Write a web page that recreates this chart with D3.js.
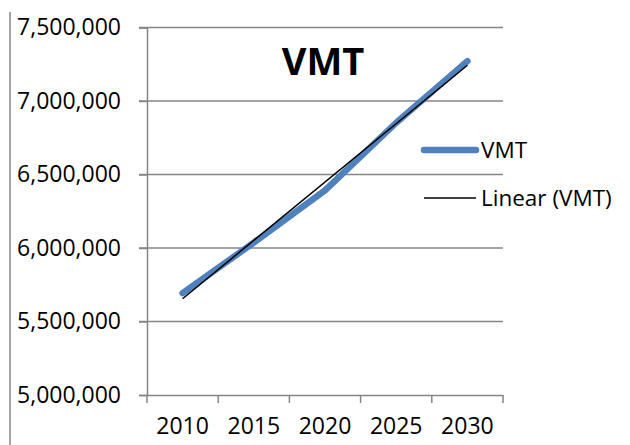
<!DOCTYPE html>
<html>
<head>
<meta charset="utf-8">
<script src="https://cdn.jsdelivr.net/npm/d3@7"></script>
<style>
  body { margin: 0; background: #fff; }
  svg { display: block; font-family: "Open Sans", sans-serif; }
</style>
</head>
<body>
<svg id="chart" width="630" height="445"></svg>
<script>
const years = ["2010", "2015", "2020", "2025", "2030"];
const vmt = [5693000, 6037000, 6392000, 6852000, 7271000];
const yTicks = [5000000, 5500000, 6000000, 6500000, 7000000, 7500000];

const svg = d3.select("#chart");
const grey = "#868686";

const x = d3.scaleBand().domain(years).range([147, 503]).padding(0);
const y = d3.scaleLinear().domain([5000000, 7500000]).range([395, 27.5]);
const cx = d => x(d) + x.bandwidth() / 2;

// left border line
svg.append("line")
  .attr("x1", 10).attr("x2", 10).attr("y1", 12).attr("y2", 445)
  .attr("stroke", grey).attr("stroke-width", 1.5);

// gridlines
svg.append("g").selectAll("line")
  .data(yTicks.slice(1))
  .join("line")
  .attr("x1", 139).attr("x2", 503)
  .attr("y1", d => y(d)).attr("y2", d => y(d))
  .attr("stroke", grey).attr("stroke-width", 1.5);

// y axis
const yAxis = svg.append("g")
  .attr("transform", "translate(147,0)")
  .call(d3.axisLeft(y).tickValues(yTicks).tickSize(8).tickPadding(18)
    .tickFormat(d3.format(",")));
yAxis.select(".domain").attr("stroke", grey).attr("stroke-width", 1.5);
yAxis.selectAll(".tick line").attr("stroke", grey).attr("stroke-width", 1.5);
yAxis.selectAll("text").attr("font-size", 23).attr("fill", "#000")
  .attr("font-family", "Open Sans");

// x axis, ticks between categories
const xAxis = svg.append("g")
  .attr("transform", "translate(0,395)")
  .call(d3.axisBottom(x).tickSize(0).tickPadding(23));
xAxis.select(".domain").attr("stroke", grey).attr("stroke-width", 1.5);
xAxis.selectAll("text").attr("font-size", 23).attr("fill", "#000")
  .attr("font-family", "Open Sans");
xAxis.append("g").selectAll("line")
  .data(years.concat(["end"]))
  .join("line")
  .attr("x1", (d, i) => x.range()[0] + i * x.bandwidth())
  .attr("x2", (d, i) => x.range()[0] + i * x.bandwidth())
  .attr("y1", 0).attr("y2", 8)
  .attr("stroke", grey).attr("stroke-width", 1.5);

// linear trendline (least squares over category index)
const n = vmt.length;
const mx = d3.mean(d3.range(n));
const my = d3.mean(vmt);
const slope = d3.sum(vmt, (v, i) => (i - mx) * (v - my)) / d3.sum(d3.range(n), i => (i - mx) * (i - mx));
const trend = years.map((yr, i) => ({ yr, v: my + slope * (i - mx) }));

const line = d3.line().x(d => cx(d.yr)).y(d => y(d.v));

svg.append("path")
  .datum(years.map((yr, i) => ({ yr, v: vmt[i] })))
  .attr("d", line)
  .attr("fill", "none")
  .attr("stroke", "#4F81BD")
  .attr("stroke-width", 6.5)
  .attr("stroke-linecap", "round")
  .attr("stroke-linejoin", "round");

svg.append("path")
  .datum([trend[0], trend[n - 1]])
  .attr("d", line)
  .attr("fill", "none")
  .attr("stroke", "#000")
  .attr("stroke-width", 1.5);

// title
svg.append("text")
  .attr("x", 323).attr("y", 75)
  .attr("text-anchor", "middle")
  .attr("font-size", 38).attr("font-weight", "bold")
  .text("VMT");

// legend
const legend = [
  { label: "VMT", color: "#4F81BD", w: 6.5, y: 150 },
  { label: "Linear (VMT)", color: "#000", w: 1.5, y: 198 }
];
const lg = svg.append("g").selectAll("g").data(legend).join("g");
lg.append("line")
  .attr("x1", 424).attr("x2", 476)
  .attr("y1", d => d.y).attr("y2", d => d.y)
  .attr("stroke", d => d.color).attr("stroke-width", d => d.w)
  .attr("stroke-linecap", d => d.w > 2 ? "round" : "butt");
lg.append("text")
  .attr("x", 481).attr("y", d => d.y + 7.5)
  .attr("font-size", 22.5)
  .text(d => d.label);
</script>
</body>
</html>
